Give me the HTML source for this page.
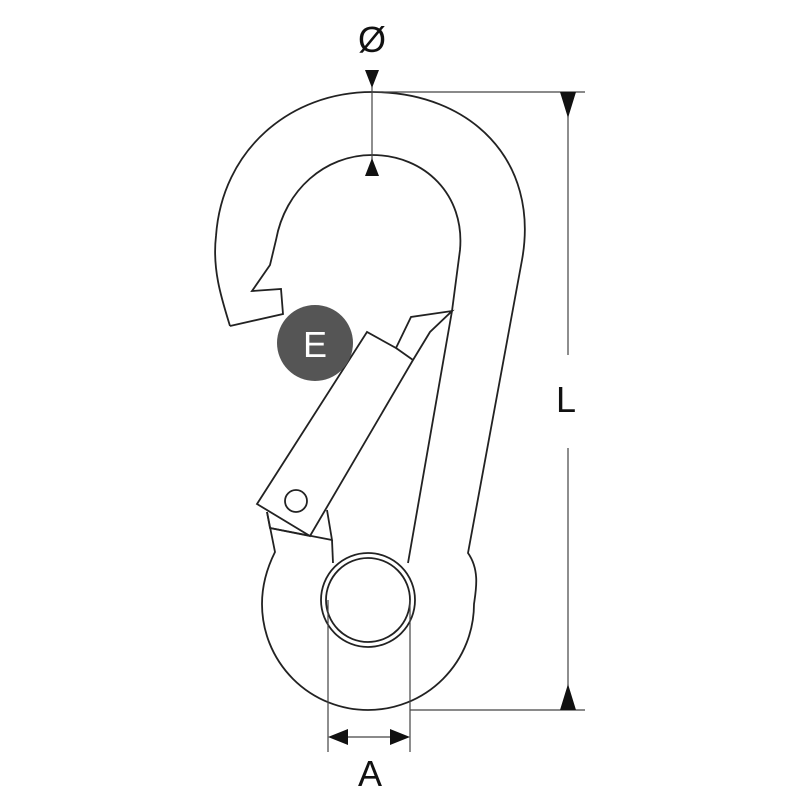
<!DOCTYPE html>
<html><head><style>body{margin:0;background:#fff}</style></head><body>
<svg width="800" height="800" viewBox="0 0 800 800" xmlns="http://www.w3.org/2000/svg">
<g fill="none" stroke="#222" stroke-width="1.8" stroke-linejoin="miter">
<path d="M230,326 C222,300 212,270 216,236 C222,150 290,92 372,92 C470,92 540,160 522,260 L468,553 C480,570 476,590 474,604 A106,106 0 0 1 262,604 C262,585 267,568 275,552 L267,512"/>
<path d="M230,326 L283,314 L281,289 L252,291 L270,265 L276,240 C285,190 325,155 372,155 C425,155 465,195 460,250 L452,311 L408,563"/>
<path d="M367,332 L257,504 L310,536 L413,360 L430,332 L452,311 L411,317 L396,348 Z"/>
<path d="M396,348 L413,360"/>
<circle cx="296" cy="501" r="11"/>
<path d="M267,512 L270,528 L332,540 L327,510"/>
<path d="M270,528 L310,536"/>
<path d="M332,540 L333,563"/>
<circle cx="368" cy="600" r="47"/>
<circle cx="368" cy="600" r="42"/>
</g>
<g stroke="#444" stroke-width="1.2" fill="none">
<path d="M372,92 H585 M410,710 H585 M568,100 V355 M568,448 V702 M372,70 V175 M328,600 V752 M410,600 V752 M335,737 H403"/>
</g>
<g fill="#111">
<path d="M560,92 L576,92 L568,118 Z M560,710 L576,710 L568,684 Z"/>
<path d="M365,70 L379,70 L372,88 Z M365,176 L379,176 L372,158 Z"/>
<path d="M328,737 L348,729 L348,745 Z M410,737 L390,729 L390,745 Z"/>
</g>
<circle cx="315" cy="343" r="38" fill="#555"/>
<g font-family="Liberation Sans, sans-serif" text-anchor="middle">
<text x="315" y="357" font-size="36" fill="#fff">E</text>
<text x="372" y="52" font-size="36" fill="#111">Ø</text>
<text x="566" y="412" font-size="36" fill="#111">L</text>
<text x="370" y="786" font-size="36" fill="#111">A</text>
</g>
</svg>
</body></html>
